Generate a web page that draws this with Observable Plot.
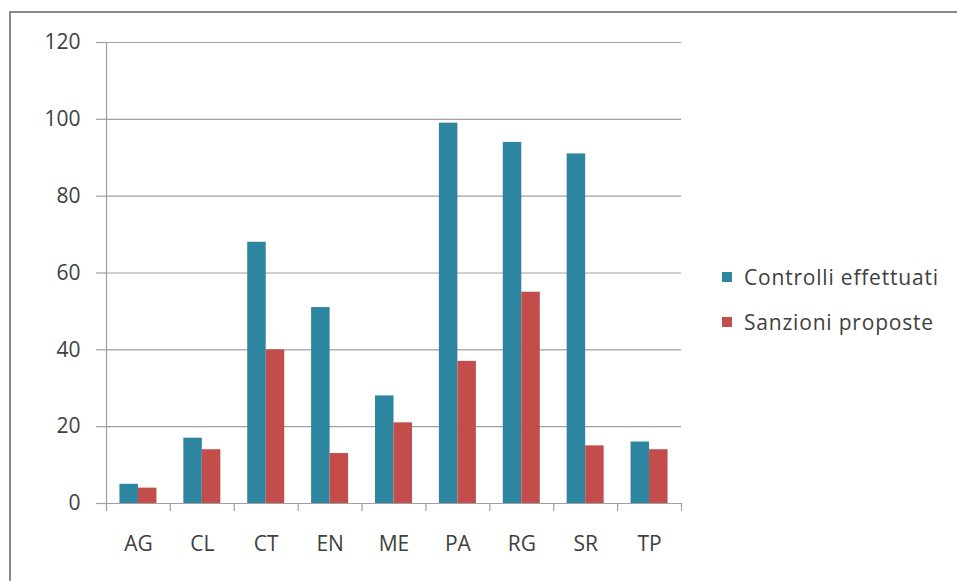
<!DOCTYPE html>
<html><head><meta charset="utf-8">
<script src="https://cdn.jsdelivr.net/npm/d3@7"></script>
<script src="https://cdn.jsdelivr.net/npm/@observablehq/plot@0.6"></script>
<style>
html,body{margin:0;padding:0;background:#fff;}
#wrap{position:relative;width:957px;height:581px;overflow:hidden;background:#fff;}
#border{position:absolute;left:9px;top:11px;width:2000px;height:2000px;border-top:2px solid #8a8a8a;border-left:2px solid #8a8a8a;}
#chart{position:absolute;left:0;top:0;}
#legend{position:absolute;left:722px;top:263px;font-family:"Open Sans",sans-serif;font-size:21px;letter-spacing:0.8px;color:#404040;}
.row{display:flex;align-items:center;height:28px;margin-bottom:17px;}
.sw{width:10px;height:10px;margin-right:12px;}
</style></head>
<body>
<div id="wrap"><div id="border"></div><div id="chart"></div><div id="legend"></div></div>
<script>
const categories = ["AG","CL","CT","EN","ME","PA","RG","SR","TP"];
const series = ["Controlli effettuati","Sanzioni proposte"];
const controlli = [5,17,68,51,28,99,94,91,16];
const sanzioni = [4,14,40,13,21,37,55,15,14];
const yTicks = [0,20,40,60,80,100,120];
const colors = ["#2e85a0","#c34d4b"];

const data = categories.flatMap((c,i)=>[
  {cat:c, series:series[0], value:controlli[i]},
  {cat:c, series:series[1], value:sanzioni[i]}
]);

const W=957,H=581,mL=106,mR=276,mT=42,mB=78;
const bw=(W-mL-mR)/categories.length;
const barW=18.5;
const gridColor="#a0a0a0";

const plot = Plot.plot({
  width:W,height:H,marginLeft:mL,marginRight:mR,marginTop:mT,marginBottom:mB,
  style:{fontFamily:"Open Sans",fontSize:"21px",color:"#404040",background:"transparent",overflow:"visible"},
  x:{domain:categories,padding:0,round:false,axis:null},
  y:{domain:[0,120],axis:null},
  marks:[
    Plot.gridY(yTicks,{stroke:gridColor,strokeOpacity:1,strokeWidth:1.2}),
    Plot.axisY(yTicks,{label:null,tickSize:10,tickPadding:16,stroke:gridColor,strokeWidth:1.2,fill:"#404040"}),
    Plot.barY(data.filter(d=>d.series===series[0]),{x:"cat",y:"value",fill:colors[0],insetLeft:bw/2-barW,insetRight:bw/2}),
    Plot.barY(data.filter(d=>d.series===series[1]),{x:"cat",y:"value",fill:colors[1],insetLeft:bw/2,insetRight:bw/2-barW}),
    Plot.axisX(categories,{label:null,tickSize:0,tickPadding:33,fill:"#404040"}),
    Plot.axisX(categories,{label:null,tickSize:8,tickFormat:()=>"",dx:-bw/2,stroke:gridColor,strokeWidth:1.2}),
    Plot.axisX([categories[categories.length-1]],{label:null,tickSize:8,tickFormat:()=>"",dx:bw/2,stroke:gridColor,strokeWidth:1.2}),
    Plot.ruleX([categories[0]],{y1:0,y2:120,dx:-bw/2,stroke:gridColor,strokeWidth:1.2})
  ]
});
document.getElementById("chart").appendChild(plot);

const leg=document.getElementById("legend");
series.forEach((s,i)=>{
  const r=document.createElement("div");r.className="row";
  const sw=document.createElement("div");sw.className="sw";sw.style.background=colors[i];
  const t=document.createElement("span");t.textContent=s;
  r.appendChild(sw);r.appendChild(t);leg.appendChild(r);
});
</script>
</body></html>
